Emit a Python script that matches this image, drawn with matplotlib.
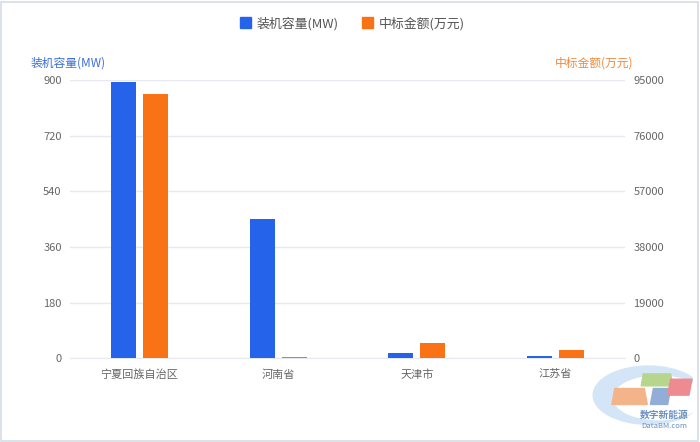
import matplotlib.pyplot as plt
import numpy as np
from matplotlib.patches import Patch, Ellipse, Polygon, Rectangle

plt.rcParams['font.family'] = ['Noto Sans CJK SC', 'DejaVu Sans']

regions = ['宁夏回族自治区', '河南省', '天津市', '江苏省']
capacity_mw = [895, 452, 16, 8]
amount_wan = [90200, 500, 5100, 2700]

blue = '#2563eb'
orange = '#f97316'
grid_c = '#e6eaf0'
tick_c = '#666666'

fig = plt.figure(figsize=(7, 4.42), dpi=100)
fig.patches.append(Rectangle((0.002, 0.003), 0.995, 0.993, transform=fig.transFigure,
                             fill=False, edgecolor='#d5dde6', linewidth=1.2))

ax = fig.add_axes([0.1, 0.19, 0.793, 0.628])
ax2 = ax.twinx()

x = np.arange(len(regions))
w = 0.18
ax.bar(x - 0.115, capacity_mw, w, color=blue, zorder=3)
ax2.bar(x + 0.115, amount_wan, w, color=orange, zorder=3)

ax.set_xlim(-0.5, 3.5)
ax.set_ylim(0, 900)
ax2.set_ylim(0, 95000)
ax.set_yticks([0, 180, 360, 540, 720, 900])
ax2.set_yticks([0, 19000, 38000, 57000, 76000, 95000])
ax.grid(axis='y', color=grid_c, linewidth=1, zorder=0)
ax.set_xticks(x)
ax.set_xticklabels(regions)

for a in (ax, ax2):
    for s in a.spines.values():
        s.set_visible(False)
    a.tick_params(length=0, labelsize=8, colors=tick_c)
ax.tick_params(axis='y', pad=6)
ax2.tick_params(axis='y', pad=6)
ax.tick_params(axis='x', pad=8)
ax.spines['bottom'].set_visible(True)
ax.spines['bottom'].set_color(grid_c)

fig.text(0.043, 0.858, '装机容量(MW)', color='#3b6fd6', fontsize=8.5, ha='left', va='center')
fig.text(0.905, 0.858, '中标金额(万元)', color='#ef8a3e', fontsize=8.5, ha='right', va='center')

handles = [Patch(color=blue, label='装机容量(MW)'), Patch(color=orange, label='中标金额(万元)')]
fig.legend(handles=handles, loc='center', bbox_to_anchor=(0.503, 0.947), ncol=2, frameon=False,
           fontsize=9.3, handlelength=0.9, handleheight=0.9, columnspacing=1.8,
           handletextpad=0.4, labelcolor='#555555')

# watermark logo
wm = fig.add_axes([0.845, 0.025, 0.145, 0.15])
wm.set_xlim(0, 10)
wm.set_ylim(0, 10)
wm.axis('off')
wm.add_patch(Ellipse((5.6, 5.4), 11.0, 9.0, facecolor='#cfe3f5', edgecolor='none', alpha=0.9))
wm.add_patch(Ellipse((6.6, 5.0), 9.0, 6.8, facecolor='white', edgecolor='none'))
wm.add_patch(Polygon([[2.0, 4.0], [5.5, 4.0], [5.2, 6.4], [2.3, 6.4]], color='#f4b48a'))
wm.add_patch(Polygon([[5.8, 4.0], [7.5, 4.0], [7.8, 6.4], [6.1, 6.4]], color='#93aed6'))
wm.add_patch(Polygon([[4.9, 6.8], [8.0, 6.8], [7.8, 8.6], [5.1, 8.6]], color='#b6d68e'))
wm.add_patch(Polygon([[7.5, 5.4], [9.6, 5.4], [9.9, 7.8], [7.8, 7.8]], color='#ee8a92'))
wm.text(7.2, 2.4, '数字新能源', fontsize=7, color='#6a8fc2', ha='center', va='center', fontweight='bold')
wm.text(7.2, 0.8, 'DataBM.com', fontsize=5.5, color='#6a8fc2', ha='center', va='center')

plt.savefig('out.png', dpi=100)
